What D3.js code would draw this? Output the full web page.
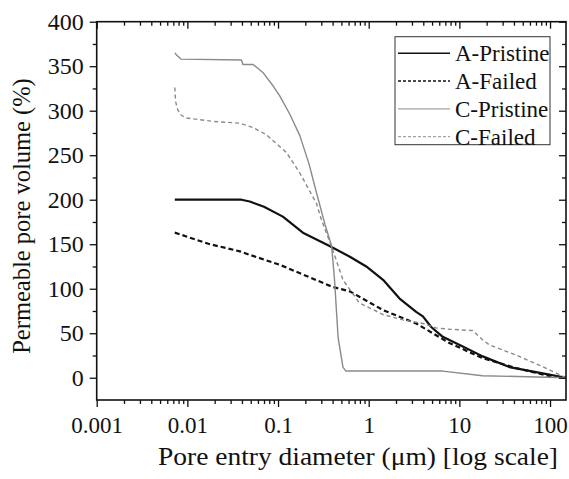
<!DOCTYPE html>
<html>
<head>
<meta charset="utf-8">
<script src="https://cdn.jsdelivr.net/npm/d3@7.9.0/dist/d3.min.js"></script>
<style>
  body { margin: 0; background: #fff; }
  svg { display: block; }
</style>
</head>
<body>
<svg id="chart" width="569" height="479"></svg>
<script>
// values: [pore entry diameter (um), permeable pore volume (%)]
const aPristine = [
  [0.00727, 200], [0.0395, 200], [0.0488, 198], [0.07, 192], [0.113, 181],
  [0.188, 163], [0.37, 148], [0.62, 136], [0.94, 125], [1.44, 110],
  [2.19, 89], [3.34, 74], [3.96, 69], [4.89, 57], [6.56, 46], [10.9, 35],
  [18.1, 24], [35.6, 12], [83, 5], [150, 0],
];
const aFailed = [
  [0.00727, 163], [0.0177, 150], [0.038, 142], [0.049, 138], [0.104, 127],
  [0.4, 102], [0.62, 97], [1.44, 76], [3.34, 61], [7.76, 39], [18.1, 22],
  [42, 11], [98, 2], [150, 0],
];
const cPristine = [
  [0.00727, 365], [0.0077, 362], [0.0085, 358], [0.0395, 357], [0.041, 352],
  [0.053, 352], [0.068, 343], [0.088, 328], [0.104, 317], [0.135, 296],
  [0.174, 272], [0.22, 240], [0.27, 205], [0.33, 172], [0.39, 148],
  [0.42, 110], [0.46, 45], [0.52, 12], [0.56, 7.5], [6.56, 7.5],
  [18, 2.3], [150, 0],
];
const cFailed = [
  [0.00727, 326], [0.0074, 311], [0.0077, 303], [0.0083, 296], [0.0095, 292],
  [0.0192, 288], [0.038, 286], [0.053, 281], [0.0745, 273], [0.124, 253],
  [0.174, 230], [0.265, 196], [0.3, 178], [0.4, 144], [0.52, 110],
  [0.62, 99], [0.79, 84], [1.44, 71], [2.38, 65], [3.96, 61], [5.5, 56],
  [7.76, 54.5], [14, 53], [18.1, 42.5], [21.4, 37], [42, 25.6], [83, 12.4],
  [150, 0],
];

const seriesNames = ['A-Pristine', 'A-Failed', 'C-Pristine', 'C-Failed'];
const xTicks = [0.001, 0.01, 0.1, 1, 10, 100];
const xTickLabels = ['0.001', '0.01', '0.1', '1', '10', '100'];
const yTicks = [0, 50, 100, 150, 200, 250, 300, 350, 400];

const FONT = '"Liberation Serif"';

const series = [
  { name: seriesNames[0], data: aPristine, color: '#111', width: 2.2, dash: null },
  { name: seriesNames[1], data: aFailed, color: '#111', width: 2.2, dash: '5,3' },
  { name: seriesNames[2], data: cPristine, color: '#8a8a8a', width: 1.4, dash: null },
  { name: seriesNames[3], data: cFailed, color: '#8a8a8a', width: 1.4, dash: '4,3' },
];

const svg = d3.select('#chart');
const margin = { top: 21.7, right: 3, bottom: 79, left: 96.7 };
const W = 569, H = 479;

const x = d3.scaleLog().domain([0.001, 150]).range([margin.left, W - margin.right]);
const y = d3.scaleLinear().domain([-25, 400]).range([H - margin.bottom, margin.top]);

const xMinor = [];
for (let e = -3; e <= 2; e++) {
  for (let k = 2; k <= 9; k++) {
    const v = k * Math.pow(10, e);
    if (v < 150) xMinor.push(v);
  }
}
const yMinor = d3.range(25, 400, 50);

// lines
const line = d3.line()
  .x((d) => x(d[0]))
  .y((d) => y(d[1]));

svg.append('g')
  .selectAll('path')
  .data(series)
  .join('path')
  .attr('fill', 'none')
  .attr('stroke', (d) => d.color)
  .attr('stroke-width', (d) => d.width)
  .attr('stroke-dasharray', (d) => d.dash)
  .attr('stroke-linejoin', 'round')
  .attr('d', (d) => line(d.data));

// axes
function styleAxis(g, size) {
  g.attr('font-family', null).attr('font-size', null);
  g.select('.domain').remove();
  g.selectAll('line').attr('stroke', '#111').attr('stroke-width', 1.3);
  g.selectAll('text')
    .attr('fill', '#111')
    .style('font-family', FONT)
    .style('font-size', size + 'px');
}

const bottomY = H - margin.bottom;

svg.append('g')
  .attr('transform', `translate(0,${bottomY})`)
  .call(d3.axisBottom(x).tickValues(xTicks).tickSize(7).tickPadding(10)
    .tickFormat((d, i) => xTickLabels[i]))
  .call(styleAxis, 23);

svg.append('g')
  .attr('transform', `translate(0,${bottomY})`)
  .call(d3.axisBottom(x).tickValues(xMinor).tickSize(4).tickFormat(''))
  .call(styleAxis);

svg.append('g')
  .attr('transform', `translate(0,${margin.top})`)
  .call(d3.axisBottom(x).tickValues(xTicks).tickSize(7).tickFormat(''))
  .call(styleAxis);

svg.append('g')
  .attr('transform', `translate(0,${margin.top})`)
  .call(d3.axisBottom(x).tickValues(xMinor).tickSize(4).tickFormat(''))
  .call(styleAxis);

svg.append('g')
  .attr('transform', `translate(${margin.left},0)`)
  .call(d3.axisLeft(y).tickValues(yTicks).tickSize(7).tickPadding(6))
  .call(styleAxis, 24);

svg.append('g')
  .attr('transform', `translate(${margin.left},0)`)
  .call(d3.axisLeft(y).tickValues(yMinor).tickSize(4).tickFormat(''))
  .call(styleAxis);

svg.append('g')
  .attr('transform', `translate(${W - margin.right},0)`)
  .call(d3.axisLeft(y).tickValues(yTicks).tickSize(7).tickFormat(''))
  .call(styleAxis);

svg.append('g')
  .attr('transform', `translate(${W - margin.right},0)`)
  .call(d3.axisLeft(y).tickValues(yMinor).tickSize(4).tickFormat(''))
  .call(styleAxis);

// frame
svg.append('rect')
  .attr('x', margin.left)
  .attr('y', margin.top)
  .attr('width', W - margin.right - margin.left)
  .attr('height', bottomY - margin.top)
  .attr('fill', 'none')
  .attr('stroke', '#111')
  .attr('stroke-width', 1.6);

// axis titles
svg.append('text')
  .attr('x', 358)
  .attr('y', 465)
  .attr('text-anchor', 'middle')
  .attr('textLength', 400)
  .attr('lengthAdjust', 'spacingAndGlyphs')
  .attr('fill', '#111')
  .style('font-family', FONT)
  .style('font-size', '25px')
  .text('Pore entry diameter (μm) [log scale]');

svg.append('text')
  .attr('transform', 'translate(21,216) rotate(-90)')
  .attr('text-anchor', 'middle')
  .attr('dy', '0.35em')
  .attr('fill', '#111')
  .style('font-family', FONT)
  .style('font-size', '24.5px')
  .text('Permeable pore volume (%)');

// legend
const legend = svg.append('g');
legend.append('rect')
  .attr('x', 395)
  .attr('y', 36.7)
  .attr('width', 155)
  .attr('height', 108)
  .attr('fill', '#fff')
  .attr('stroke', '#333')
  .attr('stroke-width', 1);

const rowH = 27.8;
const rows = legend.selectAll('g.row')
  .data(series)
  .join('g')
  .attr('class', 'row')
  .attr('transform', (d, i) => `translate(0,${53.3 + i * rowH})`);

rows.append('line')
  .attr('x1', 398)
  .attr('x2', 450)
  .attr('stroke', (d) => d.color)
  .attr('stroke-width', (d) => d.width * 0.7)
  .attr('stroke-dasharray', (d) => d.dash ? '3,2' : null);

rows.append('text')
  .attr('x', 455)
  .attr('dy', '0.35em')
  .attr('fill', '#111')
  .style('font-family', FONT)
  .style('font-size', '23px')
  .text((d) => d.name);
</script>
</body>
</html>
